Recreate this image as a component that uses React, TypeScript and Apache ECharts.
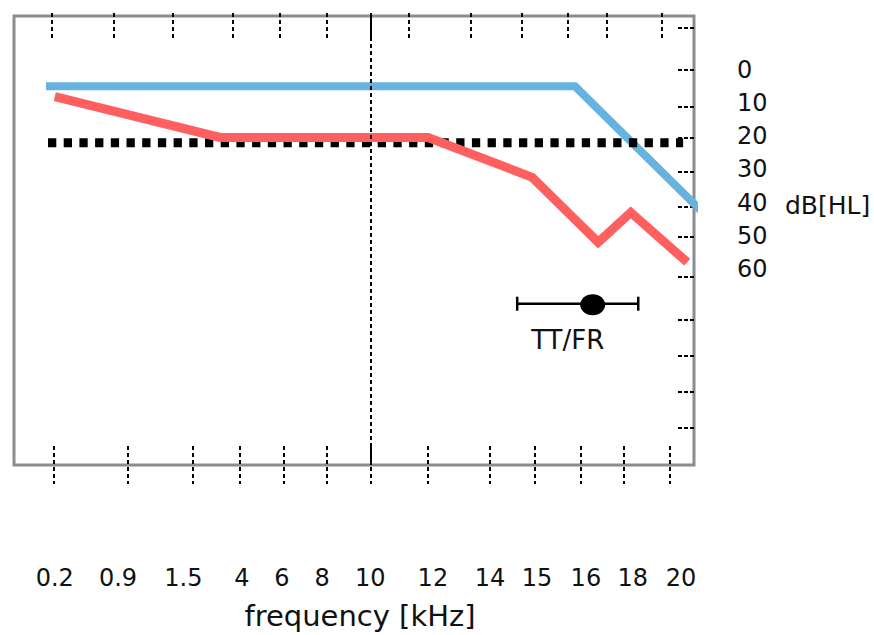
import React, { useEffect, useRef } from "react";
import * as echarts from "echarts";

// x axis is a drawing-position scale 0..100 on which frequency labels sit (hand-drawn, uneven)
const xLabels = ["0.2", "0.9", "1.5", "4", "6", "8", "10", "12", "14", "15", "16", "18", "20"];
const xLabelPos = [6.0, 15.3, 24.9, 33.5, 39.4, 45.3, 52.4, 61.6, 70.0, 76.9, 84.1, 91.0, 98.1];
const bottomTickPos = [5.9, 16.8, 26.3, 33.2, 39.7, 46.0, 52.5, 60.9, 70.0, 76.6, 83.4, 89.6, 96.5];
const topTickPos = [5.6, 14.6, 23.4, 32.1, 39.1, 46.0, 52.5, 58.1, 67.1, 74.7, 81.5, 87.2, 95.3];
const refLinePos = 52.5; // 10 kHz

const yLabels = [0, 10, 20, 30, 40, 50, 60];
const yTickDb = [-12.6, 0, 11.1, 20.4, 30.6, 41.4, 50.4, 62.4, 75.3, 86.1, 96.9, 108];

const blueX = [4.7, 82.5, 101.6];
const blueDb = [5, 5, 43.6];
const redX = [6.0, 30.3, 60.9, 76.2, 85.9, 90.7, 99.0];
const redDb = [8.1, 20.4, 20.4, 32.4, 52, 43, 58];
const blackX = [5.0, 98.4];
const blackDb = [22, 22];

const errLow = 74.0;
const errCenter = 85.1;
const errHigh = 91.8;
const errDb = 70.5;
const errLabel = "TT/FR";

const FONT = "DejaVu Sans";

export default function App() {
  const ref = useRef<HTMLDivElement>(null);
  useEffect(() => {
    const chart = echarts.init(ref.current!, undefined, { renderer: "svg" });
    const zip = (xs: number[], ys: number[]) => xs.map((x, i) => [x, ys[i]]);
    const tickStyle = { color: "#000", width: 2, type: [4, 3] as any };
    chart.setOption({
      animation: false,
      backgroundColor: "#fff",
      grid: {
        left: 14,
        right: 180,
        top: 16,
        bottom: 168,
        show: true,
        borderColor: "#8a8c8f",
        borderWidth: 3,
        backgroundColor: "transparent",
      },
      xAxis: [
        {
          type: "value",
          position: "bottom",
          offset: -19,
          min: 0,
          max: 100,
          axisLine: { show: false, onZero: false },
          splitLine: { show: false },
          axisTick: { show: true, inside: false, length: 38, customValues: bottomTickPos, lineStyle: tickStyle },
          axisLabel: {
            show: true,
            customValues: xLabelPos,
            margin: 120,
            fontFamily: FONT,
            fontSize: 24,
            color: "#111",
            formatter: (v: number) => {
              const i = xLabelPos.findIndex((p) => Math.abs(p - v) < 1e-6);
              return i >= 0 ? xLabels[i] : "";
            },
          },
          name: "frequency [kHz]",
          nameLocation: "middle",
          nameGap: 155,
          nameTextStyle: { fontFamily: FONT, fontSize: 29, color: "#111", padding: [0, 0, 0, 12] },
        },
        {
          type: "value",
          position: "top",
          offset: 3,
          min: 0,
          max: 100,
          axisLine: { show: false, onZero: false },
          splitLine: { show: false },
          axisTick: { show: true, inside: true, length: 25, customValues: topTickPos, lineStyle: tickStyle },
          axisLabel: { show: false },
        },
      ],
      yAxis: {
        type: "value",
        position: "right",
        inverse: true,
        min: -16.2,
        max: 119.1,
        axisLine: { show: false, onZero: false },
        splitLine: { show: false },
        axisTick: { show: true, inside: true, length: 16, customValues: yTickDb, lineStyle: { color: "#000", width: 2, type: [4, 2] } },
        axisLabel: {
          show: true,
          customValues: yLabels,
          margin: 43,
          fontFamily: FONT,
          fontSize: 24,
          color: "#111",
        },
      },
      graphic: [
        {
          type: "text",
          x: 785,
          y: 205,
          style: { text: "dB[HL]", fontFamily: FONT, fontSize: 25, fill: "#111", textVerticalAlign: "middle" },
        },
      ],
      series: [
        {
          type: "line",
          data: zip(blueX, blueDb),
          symbol: "none",
          clip: false,
          z: 2,
          lineStyle: { color: "#65b3de", width: 8, cap: "butt", join: "miter" },
        },
        {
          type: "line",
          data: zip(blackX, blackDb),
          symbol: "none",
          z: 3,
          lineStyle: { color: "#000", width: 9, type: [8.3, 7.4], cap: "butt" },
        },
        {
          type: "line",
          data: zip(redX, redDb),
          symbol: "none",
          clip: false,
          z: 4,
          lineStyle: { color: "#ff5f5f", width: 9, cap: "butt", join: "miter" },
        },
        {
          type: "custom",
          coordinateSystem: "cartesian2d",
          z: 5,
          clip: false,
          encode: { x: [0, 1, 2], y: 3 },
          data: [[errLow, errCenter, errHigh, errDb]],
          renderItem: (params: any, api: any) => {
            const pL = api.coord([api.value(0), api.value(3)]);
            const pC = api.coord([api.value(1), api.value(3)]);
            const pH = api.coord([api.value(2), api.value(3)]);
            const stroke = { stroke: "#000", lineWidth: 2.5 };
            return {
              type: "group",
              children: [
                { type: "line", shape: { x1: pL[0], y1: pL[1], x2: pH[0], y2: pH[1] }, style: stroke },
                { type: "line", shape: { x1: pL[0], y1: pL[1] - 7, x2: pL[0], y2: pL[1] + 7 }, style: stroke },
                { type: "line", shape: { x1: pH[0], y1: pH[1] - 7, x2: pH[0], y2: pH[1] + 7 }, style: stroke },
                { type: "ellipse", shape: { cx: pC[0], cy: pC[1] + 1, rx: 12.5, ry: 10.5 }, style: { fill: "#000" } },
                {
                  type: "text",
                  x: (pL[0] + pH[0]) / 2 - 10,
                  y: pC[1] + 36,
                  style: {
                    text: errLabel,
                    fontFamily: FONT,
                    fontSize: 26,
                    fill: "#111",
                    textAlign: "center",
                    textVerticalAlign: "middle",
                  },
                },
              ],
            };
          },
        },
        {
          type: "line",
          data: [],
          symbol: "none",
          z: 10,
          markLine: {
            silent: true,
            symbol: "none",
            label: { show: false },
            lineStyle: { color: "#000", width: 2, type: [4, 3] },
            data: [{ xAxis: refLinePos }],
          },
        },
      ],
    });
    return () => chart.dispose();
  }, []);
  return <div ref={ref} style={{ position: "fixed", left: 0, top: 0, width: 874, height: 635 }} />;
}
